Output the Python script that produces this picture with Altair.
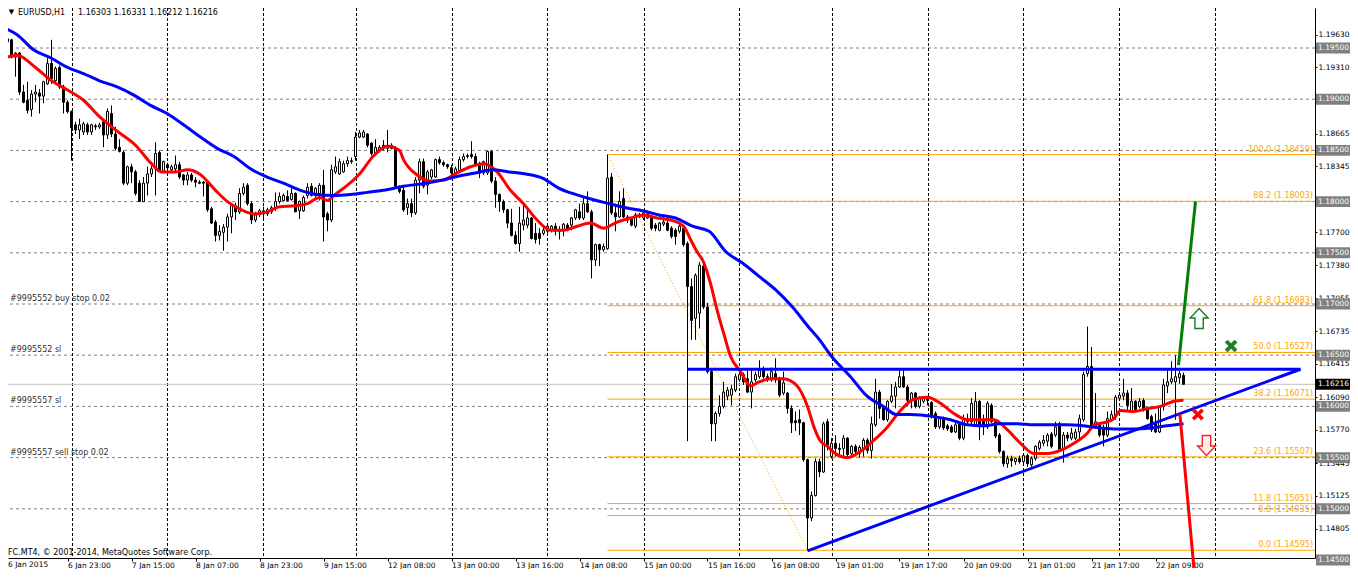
import altair as alt
import pandas as pd

FONT = "DejaVu Sans"
FS = 8
AXFS = 7.5

# ---------------- candle data (EURUSD H1, one value per bar) ----------------
OPEN = [
    1.1948, 1.1956, 1.1958, 1.1941, 1.1945, 1.1907, 1.1899, 1.1890, 1.1905, 1.1906,
    1.1903, 1.1915, 1.1935, 1.1918, 1.1931, 1.1912, 1.1897, 1.1888, 1.1875, 1.1870,
    1.1868, 1.1875, 1.1868, 1.1874, 1.1873, 1.1878, 1.1865, 1.1886, 1.1866, 1.1853,
    1.1848, 1.1818, 1.1834, 1.1829, 1.1818, 1.1800, 1.1818, 1.1827, 1.1832, 1.1848,
    1.1830, 1.1836, 1.1831, 1.1832, 1.1836, 1.1826, 1.1821, 1.1826, 1.1821, 1.1819,
    1.1819, 1.1819, 1.1793, 1.1780, 1.1767, 1.1770, 1.1775, 1.1785, 1.1796, 1.1790,
    1.1808, 1.1816, 1.1798, 1.1782, 1.1787, 1.1791, 1.1788, 1.1790, 1.1794, 1.1800,
    1.1801, 1.1805, 1.1802, 1.1808, 1.1791, 1.1791, 1.1806, 1.1815, 1.1806, 1.1808,
    1.1816, 1.1788, 1.1782, 1.1829, 1.1827, 1.1829, 1.1837, 1.1839, 1.1844, 1.1863,
    1.1863, 1.1866, 1.1857, 1.1847, 1.1850, 1.1855, 1.1852, 1.1855, 1.1852, 1.1814,
    1.1811, 1.1794, 1.1798, 1.1789, 1.1821, 1.1839, 1.1816, 1.1824, 1.1824, 1.1841,
    1.1838, 1.1836, 1.1833, 1.1828, 1.1830, 1.1841, 1.1844, 1.1846, 1.1844, 1.1837,
    1.1828, 1.1828, 1.1849, 1.1820, 1.1807, 1.1800, 1.1792, 1.1779, 1.1767, 1.1759,
    1.1777, 1.1777, 1.1784, 1.1769, 1.1769, 1.1769, 1.1771, 1.1772, 1.1776, 1.1771,
    1.1772, 1.1777, 1.1777, 1.1784, 1.1790, 1.1784, 1.1798, 1.1790, 1.1743, 1.1758,
    1.1753, 1.1754, 1.1824, 1.1789, 1.1785, 1.1803, 1.1785, 1.1784, 1.1776, 1.1787,
    1.1784, 1.1784, 1.1785, 1.1777, 1.1772, 1.1778, 1.1779, 1.1774, 1.1772, 1.1771,
    1.1774, 1.1759, 1.1717, 1.1686, 1.1691, 1.1737, 1.1697, 1.1634, 1.1583, 1.1593,
    1.1600, 1.1610, 1.1611, 1.1616, 1.1626, 1.1631, 1.1627, 1.1614, 1.1626, 1.1629,
    1.1637, 1.1629, 1.1626, 1.1632, 1.1627, 1.1613, 1.1613, 1.1598, 1.1586, 1.1587,
    1.1584, 1.1548, 1.1491, 1.1513, 1.1546, 1.1536, 1.1585, 1.1551, 1.1564, 1.1559,
    1.1559, 1.1569, 1.1554, 1.1561, 1.1554, 1.1559, 1.1567, 1.1557, 1.1582, 1.1614,
    1.1600, 1.1587, 1.1605, 1.1610, 1.1619, 1.1629, 1.1619, 1.1606, 1.1613, 1.1600,
    1.1605, 1.1607, 1.1604, 1.1593, 1.1580, 1.1588, 1.1581, 1.1580, 1.1575, 1.1584,
    1.1569, 1.1588, 1.1585, 1.1581, 1.1605, 1.1586, 1.1580, 1.1601, 1.1585, 1.1572,
    1.1556, 1.1544, 1.1549, 1.1546, 1.1549, 1.1546, 1.1552, 1.1543, 1.1549, 1.1559,
    1.1564, 1.1566, 1.1573, 1.1572, 1.1583, 1.1558, 1.1572, 1.1569, 1.1569, 1.1575,
    1.1587, 1.1632, 1.1639, 1.1580, 1.1582, 1.1578, 1.1572, 1.1586, 1.1590, 1.1608,
    1.1610, 1.1613, 1.1596, 1.1605, 1.1600, 1.1606, 1.1598, 1.1590, 1.1584, 1.1575,
    1.1600, 1.1620, 1.1624, 1.1624, 1.1628, 1.16303,
]
HIGH = [
    1.1959, 1.1966, 1.1959, 1.1946, 1.1946, 1.1914, 1.1917, 1.1909, 1.1914, 1.1910,
    1.1918, 1.1940, 1.1958, 1.1932, 1.1933, 1.1914, 1.1899, 1.1889, 1.1878, 1.1881,
    1.1878, 1.1877, 1.1876, 1.1876, 1.1877, 1.1879, 1.1891, 1.1894, 1.1873, 1.1861,
    1.1850, 1.1835, 1.1837, 1.1831, 1.1821, 1.1824, 1.1834, 1.1835, 1.1858, 1.1850,
    1.1840, 1.1838, 1.1836, 1.1845, 1.1839, 1.1827, 1.1829, 1.1828, 1.1824, 1.1821,
    1.1820, 1.1821, 1.1795, 1.1782, 1.1777, 1.1778, 1.1788, 1.1798, 1.1799, 1.1813,
    1.1818, 1.1818, 1.1800, 1.1790, 1.1793, 1.1795, 1.1794, 1.1796, 1.1809, 1.1809,
    1.1808, 1.1811, 1.1813, 1.1809, 1.1801, 1.1806, 1.1818, 1.1818, 1.1814, 1.1818,
    1.1831, 1.1790, 1.1836, 1.1844, 1.1842, 1.1840, 1.1844, 1.1843, 1.1868, 1.1870,
    1.1870, 1.1867, 1.1858, 1.1861, 1.1855, 1.1860, 1.1870, 1.1857, 1.1854, 1.1816,
    1.1815, 1.1803, 1.1803, 1.1824, 1.1842, 1.1842, 1.1831, 1.1832, 1.1842, 1.1844,
    1.1840, 1.1837, 1.1836, 1.1834, 1.1844, 1.1847, 1.1847, 1.1859, 1.1847, 1.1839,
    1.1840, 1.1850, 1.1850, 1.1824, 1.1808, 1.1802, 1.1793, 1.1793, 1.1771, 1.1795,
    1.1798, 1.1792, 1.1785, 1.1779, 1.1774, 1.1775, 1.1779, 1.1777, 1.1779, 1.1776,
    1.1779, 1.1779, 1.1785, 1.1793, 1.1798, 1.1805, 1.1810, 1.1792, 1.1759, 1.1759,
    1.1759, 1.1846, 1.1828, 1.1798, 1.1810, 1.1813, 1.1787, 1.1785, 1.1789, 1.1789,
    1.1790, 1.1791, 1.1787, 1.1779, 1.1780, 1.1785, 1.1785, 1.1776, 1.1774, 1.1780,
    1.1776, 1.1761, 1.1725, 1.1730, 1.1741, 1.1742, 1.1701, 1.1636, 1.1595, 1.1611,
    1.1624, 1.1619, 1.1621, 1.1632, 1.1636, 1.1633, 1.1636, 1.1636, 1.1634, 1.1645,
    1.1639, 1.1632, 1.1638, 1.1647, 1.1629, 1.1634, 1.1614, 1.1601, 1.1595, 1.1597,
    1.1585, 1.1549, 1.1517, 1.1549, 1.1549, 1.1585, 1.1588, 1.1569, 1.1572, 1.1564,
    1.1572, 1.1570, 1.1562, 1.1563, 1.1562, 1.1569, 1.1569, 1.1590, 1.1627, 1.1616,
    1.1601, 1.1606, 1.1622, 1.1624, 1.1637, 1.1637, 1.1621, 1.1614, 1.1614, 1.1610,
    1.1610, 1.1608, 1.1605, 1.1595, 1.1590, 1.1590, 1.1583, 1.1582, 1.1585, 1.1585,
    1.1592, 1.1593, 1.1608, 1.1614, 1.1606, 1.1592, 1.1605, 1.1603, 1.1587, 1.1574,
    1.1557, 1.1552, 1.1552, 1.1550, 1.1552, 1.1554, 1.1554, 1.1551, 1.1562, 1.1567,
    1.1572, 1.1574, 1.1575, 1.1585, 1.1585, 1.1575, 1.1575, 1.1579, 1.1578, 1.1592,
    1.1634, 1.1678, 1.1658, 1.1613, 1.1584, 1.1582, 1.1595, 1.1596, 1.1611, 1.1614,
    1.1627, 1.1616, 1.1618, 1.1606, 1.1608, 1.1608, 1.1600, 1.1592, 1.1593, 1.1601,
    1.1627, 1.1637, 1.1644, 1.1650, 1.1637, 1.16331,
]
LOW = [
    1.1945, 1.1954, 1.1940, 1.1922, 1.1904, 1.1896, 1.1886, 1.1883, 1.1897, 1.1886,
    1.1896, 1.1914, 1.1915, 1.1915, 1.1910, 1.1886, 1.1886, 1.1840, 1.1866, 1.1861,
    1.1865, 1.1865, 1.1865, 1.1870, 1.1871, 1.1853, 1.1861, 1.1863, 1.1850, 1.1848,
    1.1816, 1.1816, 1.1818, 1.1806, 1.1800, 1.1800, 1.1806, 1.1824, 1.1806, 1.1829,
    1.1829, 1.1831, 1.1828, 1.1829, 1.1822, 1.1816, 1.1816, 1.1819, 1.1814, 1.1817,
    1.1805, 1.1790, 1.1778, 1.1761, 1.1762, 1.1752, 1.1761, 1.1769, 1.1782, 1.1788,
    1.1806, 1.1796, 1.1778, 1.1780, 1.1785, 1.1782, 1.1786, 1.1788, 1.1791, 1.1798,
    1.1800, 1.1800, 1.1801, 1.1790, 1.1783, 1.1790, 1.1803, 1.1805, 1.1804, 1.1801,
    1.1761, 1.1771, 1.1780, 1.1827, 1.1826, 1.1828, 1.1834, 1.1837, 1.1840, 1.1862,
    1.1862, 1.1853, 1.1845, 1.1845, 1.1848, 1.1850, 1.1848, 1.1851, 1.1813, 1.1808,
    1.1790, 1.1787, 1.1785, 1.1787, 1.1808, 1.1813, 1.1807, 1.1822, 1.1823, 1.1836,
    1.1834, 1.1832, 1.1824, 1.1826, 1.1828, 1.1839, 1.1842, 1.1842, 1.1834, 1.1823,
    1.1826, 1.1826, 1.1818, 1.1794, 1.1790, 1.1789, 1.1774, 1.1766, 1.1758, 1.1751,
    1.1772, 1.1774, 1.1763, 1.1759, 1.1758, 1.1767, 1.1769, 1.1770, 1.1767, 1.1763,
    1.1766, 1.1771, 1.1772, 1.1782, 1.1782, 1.1782, 1.1789, 1.1725, 1.1737, 1.1737,
    1.1751, 1.1753, 1.1787, 1.1771, 1.1784, 1.1784, 1.1779, 1.1776, 1.1774, 1.1784,
    1.1782, 1.1783, 1.1772, 1.1771, 1.1771, 1.1776, 1.1771, 1.1764, 1.1758, 1.1769,
    1.1756, 1.1566, 1.1665, 1.1665, 1.1676, 1.1695, 1.1632, 1.1566, 1.1566, 1.1590,
    1.1598, 1.1606, 1.1601, 1.1614, 1.1624, 1.1621, 1.1613, 1.1598, 1.1624, 1.1627,
    1.1627, 1.1624, 1.1624, 1.1623, 1.1609, 1.1611, 1.1593, 1.1574, 1.1576, 1.1572,
    1.1546, 1.14595, 1.1488, 1.1512, 1.1531, 1.1535, 1.1557, 1.1549, 1.1551, 1.1551,
    1.1549, 1.1551, 1.1551, 1.1552, 1.1550, 1.1551, 1.1554, 1.1549, 1.1580, 1.1588,
    1.1586, 1.1585, 1.1603, 1.1598, 1.1618, 1.1618, 1.1600, 1.1598, 1.1598, 1.1598,
    1.1603, 1.1601, 1.1588, 1.1578, 1.1578, 1.1577, 1.1576, 1.1574, 1.1574, 1.1567,
    1.1567, 1.1583, 1.1583, 1.1580, 1.1567, 1.1572, 1.1578, 1.1584, 1.1569, 1.1554,
    1.1541, 1.1540, 1.1541, 1.1543, 1.1544, 1.1543, 1.1541, 1.1541, 1.1547, 1.1557,
    1.1561, 1.1561, 1.1559, 1.1570, 1.1556, 1.1545, 1.1566, 1.1567, 1.1567, 1.1567,
    1.1585, 1.1629, 1.1577, 1.1578, 1.1570, 1.1561, 1.1570, 1.1585, 1.1587, 1.1606,
    1.1606, 1.1596, 1.1595, 1.1595, 1.1598, 1.1595, 1.1587, 1.1575, 1.1574, 1.1574,
    1.1596, 1.1613, 1.1622, 1.1587, 1.1622, 1.16212,
]
CLOSE = [
    1.1958, 1.1959, 1.1941, 1.1945, 1.1907, 1.1897, 1.1889, 1.1905, 1.1907, 1.1903,
    1.1917, 1.1935, 1.1920, 1.1930, 1.1912, 1.1897, 1.1888, 1.1872, 1.1870, 1.1875,
    1.1876, 1.1868, 1.1875, 1.1873, 1.1875, 1.1865, 1.1888, 1.1866, 1.1852, 1.1849,
    1.1818, 1.1834, 1.1829, 1.1808, 1.1800, 1.1818, 1.1827, 1.1832, 1.1847, 1.1830,
    1.1839, 1.1833, 1.1834, 1.1836, 1.1824, 1.1821, 1.1826, 1.1821, 1.1819, 1.1818,
    1.1818, 1.1792, 1.1779, 1.1767, 1.1771, 1.1775, 1.1785, 1.1796, 1.1790, 1.1808,
    1.1814, 1.1798, 1.1782, 1.1787, 1.1791, 1.1788, 1.1792, 1.1794, 1.1800, 1.1805,
    1.1806, 1.1801, 1.1808, 1.1790, 1.1800, 1.1804, 1.1814, 1.1806, 1.1813, 1.1816,
    1.1785, 1.1782, 1.1831, 1.1834, 1.1839, 1.1837, 1.1840, 1.1840, 1.1863, 1.1867,
    1.1868, 1.1855, 1.1847, 1.1853, 1.1853, 1.1852, 1.1855, 1.1852, 1.1815, 1.1810,
    1.1792, 1.1798, 1.1789, 1.1821, 1.1839, 1.1815, 1.1829, 1.1831, 1.1841, 1.1838,
    1.1836, 1.1834, 1.1828, 1.1832, 1.1841, 1.1844, 1.1845, 1.1844, 1.1836, 1.1828,
    1.1839, 1.1849, 1.1820, 1.1807, 1.1800, 1.1792, 1.1779, 1.1767, 1.1759, 1.1779,
    1.1782, 1.1784, 1.1764, 1.1763, 1.1764, 1.1772, 1.1776, 1.1776, 1.1771, 1.1772,
    1.1778, 1.1772, 1.1784, 1.1792, 1.1784, 1.1798, 1.1790, 1.1743, 1.1758, 1.1753,
    1.1756, 1.1823, 1.1789, 1.1785, 1.1800, 1.1785, 1.1782, 1.1777, 1.1787, 1.1785,
    1.1789, 1.1788, 1.1774, 1.1774, 1.1779, 1.1780, 1.1772, 1.1766, 1.1766, 1.1776,
    1.1758, 1.1717, 1.1684, 1.1728, 1.1738, 1.1697, 1.1634, 1.1583, 1.1593, 1.1600,
    1.1614, 1.1616, 1.1617, 1.1629, 1.1631, 1.1624, 1.1614, 1.1624, 1.1631, 1.1635,
    1.1629, 1.1626, 1.1634, 1.1626, 1.1611, 1.1623, 1.1598, 1.1584, 1.1584, 1.1584,
    1.1548, 1.1491, 1.1513, 1.1546, 1.1536, 1.1583, 1.1561, 1.1564, 1.1559, 1.1558,
    1.1569, 1.1553, 1.1561, 1.1556, 1.1560, 1.1567, 1.1557, 1.1583, 1.1614, 1.1598,
    1.1587, 1.1605, 1.1610, 1.1619, 1.1629, 1.1619, 1.1606, 1.1613, 1.1600, 1.1608,
    1.1608, 1.1606, 1.1590, 1.1580, 1.1588, 1.1579, 1.1578, 1.1575, 1.1582, 1.1569,
    1.1588, 1.1585, 1.1603, 1.1605, 1.1580, 1.1580, 1.1603, 1.1585, 1.1571, 1.1556,
    1.1544, 1.1549, 1.1547, 1.1549, 1.1546, 1.1552, 1.1544, 1.1549, 1.1561, 1.1565,
    1.1567, 1.1572, 1.1561, 1.1580, 1.1558, 1.1572, 1.1569, 1.1574, 1.1575, 1.1588,
    1.1631, 1.1639, 1.1579, 1.1585, 1.1572, 1.1572, 1.1588, 1.1592, 1.1609, 1.1611,
    1.1613, 1.1601, 1.1605, 1.1597, 1.1605, 1.1597, 1.1588, 1.1577, 1.1575, 1.1600,
    1.1621, 1.1624, 1.1627, 1.1629, 1.1632, 1.16216,
]

# ---------------- moving averages ----------------
RED_MA_BAR = [0, 3.4, 8, 12, 16, 20, 24, 28, 33, 37, 39.5, 43, 46, 49, 53, 56, 59, 62.6, 66, 69,
              73, 76, 79, 81, 82.6, 86, 89, 92.6, 96, 99, 100, 103.4, 106.75, 110, 113.4, 116.75,
              120, 123.4, 126.75, 130, 133.4, 136.75, 140, 143.4, 146.75, 150, 153.4, 156.75, 160,
              163.4, 166.75, 170, 171.75, 173.4, 175, 176.75, 178.4, 180, 181.75, 184.25, 186.75,
              188.4, 191.75, 195, 198.4, 201, 202.6, 204.25, 206, 207.6, 211, 214.25, 217.6, 221,
              224.25, 227.6, 231, 234.25, 237.6, 241, 244.25, 247.6, 251, 254.25, 257.6, 261,
              264.25, 267.6, 271, 272.6, 276, 277.6, 279.25, 282.6, 286, 289.25, 292.6, 295]
RED_MA_VAL = [1.1940, 1.1943, 1.1931, 1.1918, 1.1909, 1.1899, 1.1883, 1.1870, 1.1855, 1.1837,
              1.1829, 1.1829, 1.1831, 1.1827, 1.1811, 1.1800, 1.1793, 1.1788, 1.1790, 1.1795,
              1.1796, 1.1798, 1.1804, 1.1801, 1.1806, 1.1816, 1.1827, 1.1845, 1.1854, 1.1850,
              1.1841, 1.1826, 1.1820, 1.1821, 1.1828, 1.1834, 1.1837, 1.1829, 1.1811, 1.1798,
              1.1782, 1.1772, 1.1772, 1.1776, 1.1779, 1.1774, 1.1780, 1.1784, 1.1787, 1.1784,
              1.1782, 1.1776, 1.1763, 1.1751, 1.1741, 1.1720, 1.1694, 1.1672, 1.1649, 1.1634,
              1.1620, 1.1623, 1.1627, 1.1627, 1.1620, 1.1600, 1.1580, 1.1566, 1.1561, 1.1555,
              1.1550, 1.1556, 1.1567, 1.1580, 1.1596, 1.1607, 1.1609, 1.1603, 1.1593, 1.1587,
              1.1587, 1.1587, 1.1577, 1.1564, 1.1554, 1.1554, 1.1557, 1.1564, 1.1574, 1.1582,
              1.1585, 1.1588, 1.1596, 1.1595, 1.1598, 1.1600, 1.1605, 1.1606]
BLUE_MA_BAR = [0, 3.4, 7.6, 12, 16, 20, 24, 28.4, 32.6, 36.75, 40.9, 45, 49.25, 53.4, 57.6,
               61.75, 65.9, 70, 74.25, 78.4, 82.6, 86.75, 91, 95, 100, 105.6, 109.75, 113.9, 118,
               122.25, 126.4, 130.6, 134.75, 138.9, 143, 147.25, 151.4, 155.6, 159.75, 163.9, 168,
               172.25, 176.4, 180.6, 184.75, 188.9, 193, 197.25, 201.8, 203.4, 207.4, 211.75,
               215.9, 220, 223.25, 226.75, 232.6, 236.75, 240.9, 245, 249.25, 253.4, 257.6,
               261.75, 265.9, 270, 274.25, 278.4, 282.6, 286.75, 290.9, 295]
BLUE_MA_VAL = [1.1970, 1.1963, 1.1948, 1.1940, 1.1931, 1.1925, 1.1918, 1.1912, 1.1904, 1.1894,
               1.1886, 1.1875, 1.1863, 1.1852, 1.1844, 1.1832, 1.1824, 1.1818, 1.1811, 1.1807,
               1.1806, 1.1807, 1.1809, 1.1811, 1.1815, 1.1818, 1.1821, 1.1825, 1.1828, 1.1831,
               1.1829, 1.1827, 1.1823, 1.1813, 1.1807, 1.1802, 1.1798, 1.1794, 1.1791, 1.1787,
               1.1784, 1.1776, 1.1771, 1.1751, 1.1740, 1.1727, 1.1714, 1.1697, 1.1675, 1.1668,
               1.1647, 1.1629, 1.1610, 1.1600, 1.1592, 1.1592, 1.1590, 1.1587, 1.1582, 1.1581,
               1.1583, 1.1583, 1.1582, 1.1582, 1.1582, 1.1581, 1.1579, 1.1578, 1.1578, 1.1579,
               1.1581, 1.1583]

# ---------------- axes / levels / annotations ----------------
TIME_TICK_BARS = [16, 32, 48, 64, 80, 96, 112, 128, 144, 160, 176, 192, 208, 224, 240, 256, 272, 288]
TIME_LABELS = ["6 Jan 23:00", "7 Jan 15:00", "8 Jan 07:00", "8 Jan 23:00", "9 Jan 15:00",
               "12 Jan 08:00", "13 Jan 00:00", "13 Jan 16:00", "14 Jan 08:00", "15 Jan 00:00",
               "15 Jan 16:00", "16 Jan 08:00", "19 Jan 01:00", "19 Jan 17:00", "20 Jan 09:00",
               "21 Jan 01:00", "21 Jan 17:00", "22 Jan 09:00"]
FIRST_LABEL = "6 Jan 2015"
GRID_BARS = [17.25, 41, 65, 88.25, 112.25, 136, 160.25, 184, 207.25, 231.25, 255, 279, 303]
LEVELS = [1.145, 1.150, 1.155, 1.160, 1.165, 1.170, 1.175, 1.180, 1.185, 1.190, 1.195]
AXIS_VALUES = [1.19630, 1.19310, 1.18665, 1.18345, 1.17700, 1.17380, 1.17055, 1.16735,
               1.16415, 1.16090, 1.15770, 1.15445, 1.15125, 1.14805]
FIB_PCT = ["100.0", "88.2", "61.8", "50.0", "38.2", "23.6", "11.8", "8.8", "0.0"]
FIB_PRICE = [1.18459, 1.18003, 1.16983, 1.16527, 1.16071, 1.15507, 1.15051, 1.14935, 1.14595]
FIB_START_BAR = 151
FIB_END_BAR = 201
BID = 1.16216
ORDER_TEXT = ["#9995552 buy stop 0.02", "#9995552 sl", "#9995557 sl", "#9995557 sell stop 0.02"]
ORDER_PRICE = [1.170, 1.165, 1.160, 1.155]
HEADER_SYMBOL = "EURUSD,H1"
HEADER_VALUES = "1.16303 1.16331 1.16212 1.16216"
COPYRIGHT = "FC.MT4, \u00a9 2001-2014, MetaQuotes Software Corp."

# drawn objects: (x1 bar, y1 price, x2 bar, y2 price, colour)
SEG_X1 = [171, 201, 293.75]
SEG_Y1 = [1.16363, 1.14590, 1.16404]
SEG_X2 = [324.25, 324.25, 298]
SEG_Y2 = [1.16363, 1.16363, 1.18003]
SEG_COLOR = ["#0000FF", "#0000FF", "#008000"]
RED_SEG = [294.1, 1.15926, 297.6, 1.14422]

UP_ARROW = [298.9, 1.16859]
DOWN_ARROW = [300.75, 1.15618]
GREEN_X = [306.9, 1.16590]
RED_X = [298.6, 1.15921]

# ---------------- scales ----------------
W, H = 1307, 550
X_DOMAIN = [1.125, 327.875]
XS = alt.Scale(domain=X_DOMAIN, nice=False, zero=False)
YS = alt.Scale(domain=[1.14519531, 1.19890625], nice=False, zero=False)

label_array = "[" + ",".join("'" + s + "'" for s in TIME_LABELS) + "]"
XAXIS = alt.Axis(orient="bottom", values=TIME_TICK_BARS,
                 labelExpr=label_array + "[round(datum.value/16)-1]",
                 labelAlign="left", labelPadding=0, tickSize=3,
                 tickColor="black", domainColor="black", labelColor="black",
                 labelFont=FONT, labelFontSize=AXFS, grid=False, title=None,
                 labelOverlap=False, labelFlush=False, labelBound=False)
YAXIS = alt.Axis(orient="right", values=AXIS_VALUES, format=".5f",
                 labelAlign="left", labelPadding=1, tickSize=2, labelBaseline="middle",
                 tickColor="black", domainColor="black", labelColor="black",
                 labelFont=FONT, labelFontSize=AXFS, grid=False, title=None,
                 labelOverlap=False, labelFlush=False, labelBound=False)


def X(f):
    return alt.X(f, type="quantitative", scale=XS, axis=XAXIS)


def Y(f):
    return alt.Y(f, type="quantitative", scale=YS, axis=YAXIS)


# ---------------- tables ----------------
candles = pd.DataFrame({"bar": list(range(len(CLOSE))), "o": OPEN, "h": HIGH, "l": LOW, "c": CLOSE})
red_ma = pd.DataFrame({"bar": RED_MA_BAR, "v": RED_MA_VAL})
blue_ma = pd.DataFrame({"bar": BLUE_MA_BAR, "v": BLUE_MA_VAL})
levels = pd.DataFrame({"p": LEVELS, "t": [f"{v:.5f}" for v in LEVELS]})
grid_v = pd.DataFrame({"g": GRID_BARS})
fib = pd.DataFrame({"p": FIB_PRICE, "t": [f"{a} ({b:.5f})" for a, b in zip(FIB_PCT, FIB_PRICE)],
                    "x1": [FIB_START_BAR] * len(FIB_PRICE), "x2": [X_DOMAIN[1]] * len(FIB_PRICE)})
fib_diag = pd.DataFrame({"x1": [FIB_START_BAR], "y1": [FIB_PRICE[0]],
                         "x2": [FIB_END_BAR], "y2": [FIB_PRICE[-1]]})
segs = pd.DataFrame({"x1": SEG_X1, "y1": SEG_Y1, "x2": SEG_X2, "y2": SEG_Y2, "col": SEG_COLOR})
red_seg = pd.DataFrame({"x1": [RED_SEG[0]], "y1": [RED_SEG[1]], "x2": [RED_SEG[2]], "y2": [RED_SEG[3]]})
orders = pd.DataFrame({"p": ORDER_PRICE, "t": ORDER_TEXT})
bid = pd.DataFrame({"p": [BID], "t": [f"{BID:.5f}"]})

# ---------------- layers ----------------
grid_h_layer = alt.Chart(levels).mark_rule(color="#808080", strokeWidth=1, strokeDash=[3, 3], clip=True).encode(y=Y("p"))
grid_v_layer = alt.Chart(grid_v).mark_rule(color="black", strokeWidth=1, strokeDash=[3, 2]).encode(x=X("g"))
bid_layer = alt.Chart(bid).mark_rule(color="#C0C0C0", strokeWidth=1).encode(y=Y("p"))
fib_layer = alt.Chart(fib).mark_rule(color="#FFA500", strokeWidth=1).encode(x=X("x1"), x2="x2", y=Y("p"))
fib_diag_layer = alt.Chart(fib_diag).mark_rule(color="#FFA500", strokeWidth=1, strokeDash=[1, 2]).encode(
    x=X("x1"), x2="x2", y=Y("y1"), y2="y2")

wick_layer = alt.Chart(candles).mark_rule(color="black", strokeWidth=1, clip=True).encode(
    x=X("bar"), y=Y("l"), y2="h")
body_layer = alt.Chart(candles).transform_calculate(
    bx1="datum.bar - 0.25", bx2="datum.bar + 0.25"
).mark_rect(stroke="black", strokeWidth=1, clip=True).encode(
    x=X("bx1:Q"), x2="bx2:Q", y=Y("o"), y2="c",
    fill=alt.condition("datum.c >= datum.o", alt.value("white"), alt.value("black")))

red_ma_layer = alt.Chart(red_ma).mark_line(color="#FF0000", strokeWidth=3, clip=True, interpolate="monotone").encode(
    x=X("bar"), y=Y("v"))
blue_ma_layer = alt.Chart(blue_ma).mark_line(color="#0000FF", strokeWidth=3, clip=True, interpolate="monotone").encode(
    x=X("bar"), y=Y("v"))

seg_layer = alt.Chart(segs).mark_rule(strokeWidth=3).encode(
    x=X("x1"), x2="x2", y=Y("y1"), y2="y2", color=alt.Color("col:N", scale=None))
red_seg_layer = alt.Chart(red_seg).mark_rule(strokeWidth=3, color="#FF0000").encode(
    x=X("x1"), x2="x2", y=Y("y1"), y2="y2")

UP_PATH = "M0,-1L0.9,-0.05L0.42,-0.05L0.42,1L-0.42,1L-0.42,-0.05L-0.9,-0.05Z"
DOWN_PATH = "M0,1L0.9,0.05L0.42,0.05L0.42,-1L-0.42,-1L-0.42,0.05L-0.9,0.05Z"
X_PATH = "M-1,-0.6L-0.6,-1L0,-0.4L0.6,-1L1,-0.6L0.4,0L1,0.6L0.6,1L0,0.4L-0.6,1L-1,0.6L-0.4,0Z"
BOX_PATH = "M-1,-0.32L1,-0.32L1,0.32L-1,0.32Z"


def marker(pos, path, size, fill, stroke, sw):
    df = pd.DataFrame({"x": [pos[0]], "y": [pos[1]]})
    return alt.Chart(df).mark_point(shape=path, size=size, filled=True, fill=fill, stroke=stroke,
                                    strokeWidth=sw, opacity=1, fillOpacity=1, strokeOpacity=1).encode(
        x=X("x"), y=Y("y"))


up_layer = marker(UP_ARROW, UP_PATH, 400, "#F4FFFF", "#1E7B1E", 1.4)
down_layer = marker(DOWN_ARROW, DOWN_PATH, 400, "#FFF2EC", "#FF2020", 1.4)
gx_layer = marker(GREEN_X, X_PATH, 144, "#1E7B1E", "#1E7B1E", 0.5)
rx_layer = marker(RED_X, X_PATH, 130, "#FF0000", "#FF0000", 0.5)

fib_text_layer = alt.Chart(fib).mark_text(align="right", baseline="bottom", dy=-1, color="#FFA500",
                                          font=FONT, fontSize=FS).encode(
    x=alt.value(1305), y=Y("p"), text="t:N")
order_text_layer = alt.Chart(orders).mark_text(align="left", baseline="bottom", dy=-1, color="#303030",
                                               font=FONT, fontSize=FS).encode(
    x=alt.value(2), y=Y("p"), text="t:N")

BOX_CX = 1325
LABEL_X = 1310
box_layer = alt.Chart(levels).mark_point(shape=BOX_PATH, size=1156, filled=True, color="#808080",
                                         opacity=1).encode(x=alt.value(BOX_CX), y=Y("p"))
box_text_layer = alt.Chart(levels).mark_text(align="left", baseline="middle", color="white",
                                             font=FONT, fontSize=AXFS).encode(
    x=alt.value(LABEL_X), y=Y("p"), text="t:N")
bid_box_layer = alt.Chart(bid).mark_point(shape=BOX_PATH, size=1156, filled=True, color="black",
                                          opacity=1).encode(x=alt.value(BOX_CX), y=Y("p"))
bid_text_layer = alt.Chart(bid).mark_text(align="left", baseline="middle", color="white",
                                          font=FONT, fontSize=AXFS).encode(
    x=alt.value(LABEL_X), y=Y("p"), text="t:N")


def fixed_text(txt, x, y, size=FS, align="left", baseline="alphabetic", color="black"):
    return alt.Chart(alt.Data(values=[{"t": txt}])).mark_text(
        align=align, baseline=baseline, color=color, font=FONT, fontSize=size).encode(
        x=alt.value(x), y=alt.value(y), text="t:N")


header_tri = fixed_text("\u25bc", 3.5, 3.5, size=7, align="center", baseline="middle")
header_sym = fixed_text(HEADER_SYMBOL, 10, 6.5)
header_val = fixed_text(HEADER_VALUES, 70, 6.5)
copyright_layer = fixed_text(COPYRIGHT, 0, 547)
first_label = fixed_text(FIRST_LABEL, 0, 553, size=AXFS, baseline="top")

chart = alt.layer(
    grid_h_layer, grid_v_layer, bid_layer, fib_layer, fib_diag_layer,
    wick_layer, body_layer, red_ma_layer, blue_ma_layer,
    seg_layer, red_seg_layer, up_layer, down_layer, gx_layer, rx_layer,
    fib_text_layer, order_text_layer,
    box_layer, box_text_layer, bid_box_layer, bid_text_layer,
    header_tri, header_sym, header_val, copyright_layer, first_label,
).properties(
    width=W, height=H,
    autosize=alt.AutoSizeParams(type="none"),
    padding={"left": 0, "top": 0, "right": 35, "bottom": 11},
    background="white",
).configure_view(stroke=None)

chart.save("out.html", embed_options={"renderer": "svg", "actions": False})
